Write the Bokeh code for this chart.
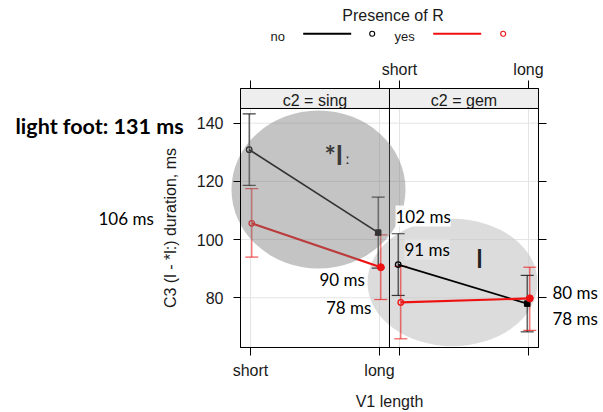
from bokeh.plotting import figure
from bokeh.models import Range1d, LinearAxis, FixedTicker, ColumnDataSource, Label
from bokeh.embed import file_html
from bokeh.resources import INLINE
from bokeh.core.properties import value

# ---------------- data ----------------
v1_levels = ["short", "long"]          # x categories (V1 length)
c2_levels = ["sing", "gem"]            # panels
groups = ["no", "yes"]                 # Presence of R

no_sing = [130.9, 102.4]
no_sing_lo = [118.6, 90.2]
no_sing_hi = [143.2, 114.6]
yes_sing = [105.6, 90.5]
yes_sing_lo = [94.0, 79.4]
yes_sing_hi = [117.5, 101.6]

no_gem = [91.4, 78.0]
no_gem_lo = [80.8, 68.3]
no_gem_hi = [102.0, 87.7]
yes_gem = [78.4, 79.8]
yes_gem_lo = [65.9, 68.8]
yes_gem_hi = [90.8, 90.5]

y_ticks = [80, 100, 120, 140]

# ---------------- layout constants ----------------
W, H = 603, 412
PAD = 0.0775                 # x padding of each panel (data units)
PANEL_W = 1 + 2 * PAD
DODGE = 0.01
Y_LO, Y_HI = 62.92, 151.92   # panel bottom / strip top (data units)
STRIP_LO = 145.05            # strip bottom
FRAME_X0, X_SCALE = 240.0, 129.0   # canvas px of panel left edge, px per x unit
FRAME_Y0, Y_SCALE = 88.0, 2.91     # canvas px of strip top, px per y unit
X_L, X_R = -PAD, 2 * PANEL_W - PAD
BASE_FIX = 0.32              # baseline correction (fraction of font size)

colors = {"no": "#000000", "yes": "#ee1111"}
line_w = {"no": 1.7, "yes": 2.2}
bar_alpha = {"no": 0.75, "yes": 0.7}
long_marker = {"no": ("square", 5.5), "yes": ("circle", 7)}
FONT = "Liberation Sans"
TXT = "#1a1a1a"


def px2x(px):
    return -PAD + (px - FRAME_X0) / X_SCALE


def py2y(py):
    return Y_HI - (py - FRAME_Y0) / Y_SCALE


def base_y(py, size):
    return py2y(py - BASE_FIX * size)


p = figure(width=W, height=H,
           x_range=Range1d(px2x(0), px2x(W)), y_range=Range1d(py2y(H), py2y(0)),
           output_backend="svg", toolbar_location=None, min_border=0,
           x_axis_location=None, y_axis_location=None)
p.title.visible = False
p.outline_line_color = None
p.xgrid.visible = False
p.ygrid.visible = False

x_ticks = [0, 1, PANEL_W, PANEL_W + 1]
panel_left = [X_L, X_L + PANEL_W]
panel_right = [X_L + PANEL_W, X_R]


def style_axis(ax, tick_out):
    ax.major_tick_in = 0
    ax.major_tick_out = tick_out
    ax.minor_tick_in = 0
    ax.minor_tick_out = 0
    ax.axis_line_color = "black"
    ax.major_tick_line_color = "black"
    ax.major_label_text_font = FONT
    ax.major_label_text_font_size = "16px"
    ax.major_label_text_color = TXT
    ax.axis_label_text_font = FONT
    ax.axis_label_text_font_size = "16px"
    ax.axis_label_text_font_style = "normal"
    ax.axis_label_text_color = TXT


# axes drawn at the panel edges
yax = LinearAxis(ticker=FixedTicker(ticks=y_ticks), fixed_location=X_L, bounds=(Y_LO, STRIP_LO),
                 axis_label="C3 (l - *l:) duration, ms")
style_axis(yax, 7)
yax.major_label_standoff = 10
yax.axis_label_standoff = 15
p.add_layout(yax, "left")

rax = LinearAxis(ticker=FixedTicker(ticks=y_ticks), fixed_location=X_R, bounds=(Y_LO, STRIP_LO))
rax.major_label_overrides = {t: "" for t in y_ticks}
style_axis(rax, 8)
p.add_layout(rax, "right")

xax = LinearAxis(ticker=FixedTicker(ticks=x_ticks), fixed_location=Y_LO, bounds=(X_L, X_R),
                 axis_label="V1 length")
xax.major_label_overrides = {x_ticks[0]: v1_levels[0], x_ticks[1]: v1_levels[1],
                             x_ticks[2]: "", x_ticks[3]: ""}
style_axis(xax, 8)
xax.major_label_standoff = 7
xax.axis_label_standoff = 10
p.add_layout(xax, "below")

tax = LinearAxis(ticker=FixedTicker(ticks=x_ticks), fixed_location=Y_HI, bounds=(X_L, X_R))
tax.major_label_overrides = {x_ticks[0]: "", x_ticks[1]: "",
                             x_ticks[2]: v1_levels[0], x_ticks[3]: v1_levels[1]}
style_axis(tax, 8)
tax.major_label_standoff = 3
p.add_layout(tax, "above")

# reference grid inside the panels
gy_x0, gy_x1, gy_y = [], [], []
for i in range(len(c2_levels)):
    for t in y_ticks:
        gy_x0.append(panel_left[i]); gy_x1.append(panel_right[i]); gy_y.append(t)
p.segment(x0=gy_x0, y0=gy_y, x1=gy_x1, y1=gy_y, line_color="#e4e4e4", line_width=1)
p.segment(x0=x_ticks, y0=[Y_LO] * 4, x1=x_ticks, y1=[STRIP_LO] * 4,
          line_color="#e4e4e4", line_width=1)

# strips
p.quad(left=panel_left, right=panel_right, bottom=[STRIP_LO] * 2, top=[Y_HI] * 2,
       fill_color="#eeeeee", line_color="black", line_width=1)
p.text(x=[0.5, PANEL_W + 0.5], y=[base_y(105, 16)] * 2,
       text=[f"c2 = {c}" for c in c2_levels], text_align="center", text_baseline="alphabetic",
       text_font=value(FONT), text_font_size="16px", text_color=TXT)

# light ellipse (gem panel), below data
p.ellipse(x=[px2x(452)], y=[py2y(282)], width=[170 / X_SCALE], height=[127.4 / Y_SCALE],
          fill_color="#c4c4c4", fill_alpha=0.6, line_color=None)

# panel bodies (border + divider)
p.quad(left=panel_left, right=panel_right, bottom=[Y_LO] * 2, top=[STRIP_LO] * 2,
       fill_color=None, line_color="black", line_width=1)

# series
series = [
    ("no", "sing", no_sing, no_sing_lo, no_sing_hi),
    ("no", "gem", no_gem, no_gem_lo, no_gem_hi),
    ("yes", "sing", yes_sing, yes_sing_lo, yes_sing_hi),
    ("yes", "gem", yes_gem, yes_gem_lo, yes_gem_hi),
]
sources = []
for grp, panel, vals, lo, hi in series:
    pi = c2_levels.index(panel)
    d = -DODGE if grp == "no" else DODGE
    xs = [i + pi * PANEL_W + d for i in range(len(v1_levels))]
    sources.append((grp, ColumnDataSource(dict(x=xs, y=vals, lo=lo, hi=hi))))

for grp, src in sources:   # error bars
    col, a = colors[grp], bar_alpha[grp]
    p.segment(x0="x", y0="lo", x1="x", y1="hi", source=src, line_color=col, line_alpha=a,
              line_width=1.2)
    for end in ("lo", "hi"):
        p.scatter(x="x", y=end, source=src, marker="dash", size=13, line_color=col,
                  line_alpha=a, line_width=1.2)

for grp, src in sources:   # means
    col = colors[grp]
    p.line("x", "y", source=src, line_color=col, line_width=line_w[grp])
    xs, ys = src.data["x"], src.data["y"]
    p.scatter(x=xs[:1], y=ys[:1], marker="circle", size=5.5, fill_color=None,
              line_color=col, line_width=1.3)
    mk, sz = long_marker[grp]
    p.scatter(x=xs[1:], y=ys[1:], marker=mk, size=sz, fill_color=col,
              line_color=col, line_width=1)

# dark translucent ellipse (sing panel) on top of the data
p.ellipse(x=[px2x(318)], y=[py2y(189)], width=[174 / X_SCALE], height=[158 / Y_SCALE],
          fill_color="#767676", fill_alpha=0.43, line_color=None)

# legend (top)
leg_text_x = [270, 394]
leg_line_x = [(302.7, 350.7), (432.7, 480.7)]
leg_mark_x = [371.7, 502.7]
for i, g in enumerate(groups):
    p.line(x=[px2x(v) for v in leg_line_x[i]], y=[py2y(33.3)] * 2, line_color=colors[g],
           line_width=2)
    p.scatter(x=[px2x(leg_mark_x[i])], y=[py2y(33.3)], marker="circle", size=5,
              fill_color=None, line_color=colors[g], line_width=1.1)


def note(text, px, py, size, bold=False, font="Lato", color="black", bg=None, bg_alpha=1.0,
         align="left"):
    lab = Label(x=px2x(px), y=base_y(py, size), text=text, text_font=font,
                text_font_size=f"{size}px", text_font_style="bold" if bold else "normal",
                text_color=color, text_align=align, text_baseline="alphabetic")
    if bg is not None:
        lab.background_fill_color = bg
        lab.background_fill_alpha = bg_alpha
    p.add_layout(lab)


note("Presence of R", 392.5, 20.5, 16, font=FONT, color=TXT, align="center")
for i, g in enumerate(groups):
    note(g, leg_text_x[i], 40, 13, font=FONT, color=TXT)

# annotations
note("light foot: 131 ms", 15, 132.7, 21.5, bold=True)
note("106 ms", 98, 223.3, 17)
note("102 ms", 395, 221, 17, bg="white", bg_alpha=0.9)
note("91 ms", 404, 254.3, 17, bg="white", bg_alpha=0.3)
note("90 ms", 319, 284, 17)
note("78 ms", 325.5, 312.3, 17)
note("80 ms", 552, 297.3, 17)
note("78 ms", 552, 323.3, 17)
note("*l", 324, 163, 27, bold=True, color="#3a3a3a")
note("ː", 345, 163, 14, font="DejaVu Sans", color="#3a3a3a")
note("l", 476, 266, 24, bold=True, color="#222222")

open("out.html", "w").write(file_html(p, INLINE))
